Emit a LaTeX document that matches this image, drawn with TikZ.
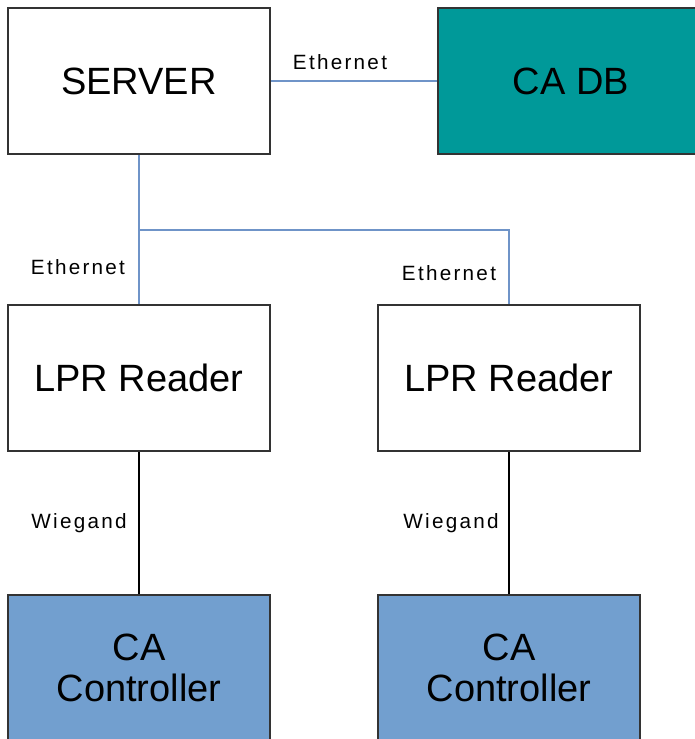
\documentclass[tikz,border=0pt]{standalone}
\usepackage{fontspec}
\setmainfont{Liberation Sans}
\newfontfamily\labelfont[LetterSpace=11]{Liberation Sans}
\definecolor{boxline}{HTML}{333333}
\definecolor{teal}{HTML}{009999}
\definecolor{ctrlblue}{HTML}{729FCF}
\definecolor{netblue}{HTML}{6F94C8}
\begin{document}
\begin{tikzpicture}[x=0.75pt,y=-0.75pt,
  box/.style={draw=boxline,line width=1.6pt,minimum width=196.5pt,minimum height=109.5pt,
    inner sep=0pt,align=center,font=\fontsize{28.5}{31}\selectfont},
  ctrlbox/.style={box,fill=ctrlblue,minimum height=120pt},
  dbbox/.style={box,fill=teal,minimum width=200pt},
  eth/.style={draw=netblue,line width=1.4pt},
  wire/.style={draw=black,line width=1.1pt},
  lbl/.style={inner sep=0pt,font=\labelfont\fontsize{15.5}{17}\selectfont}]
\useasboundingbox (0,0) rectangle (695,739);
\fill[white] (0,0) rectangle (695,739);

% equipment boxes
\node[box] (server) at (139,81) {SERVER};
\node[dbbox] (cadb) at (571,81) {CA DB};
\node[box] (lpr1) at (139,378) {LPR Reader};
\node[box] (lpr2) at (509,378) {LPR Reader};
\node[ctrlbox] (ctrl1) at (139,675) {};
\node[ctrlbox] (ctrl2) at (509,675) {};
\node[inner sep=0pt,align=center,font=\fontsize{28.5}{30.75}\selectfont] (ctrl1txt) at (139,668) {CA\\Controller};
\node[inner sep=0pt,align=center,font=\fontsize{28.5}{30.75}\selectfont] (ctrl2txt) at (509,668) {CA\\Controller};

% network links
\coordinate (split) at (139,230);
\draw[eth] (server.east) -- (cadb.west);
\draw[eth] (server.south) -- (lpr1.north);
\draw[eth] (split) -| (lpr2.north);

% reader to controller links
\draw[wire] (lpr1.south) -- (ctrl1.north);
\draw[wire] (lpr2.south) -- (ctrl2.north);

% link labels
\node[lbl] (lblA) at (340,62) {Ethernet};
\node[lbl] (lblB) at (78,267) {Ethernet};
\node[lbl] (lblC) at (449,273) {Ethernet};
\node[lbl] (lblD) at (79,523) {Wiegand};
\node[lbl] (lblE) at (451,523) {Wiegand};
\end{tikzpicture}
\end{document}
